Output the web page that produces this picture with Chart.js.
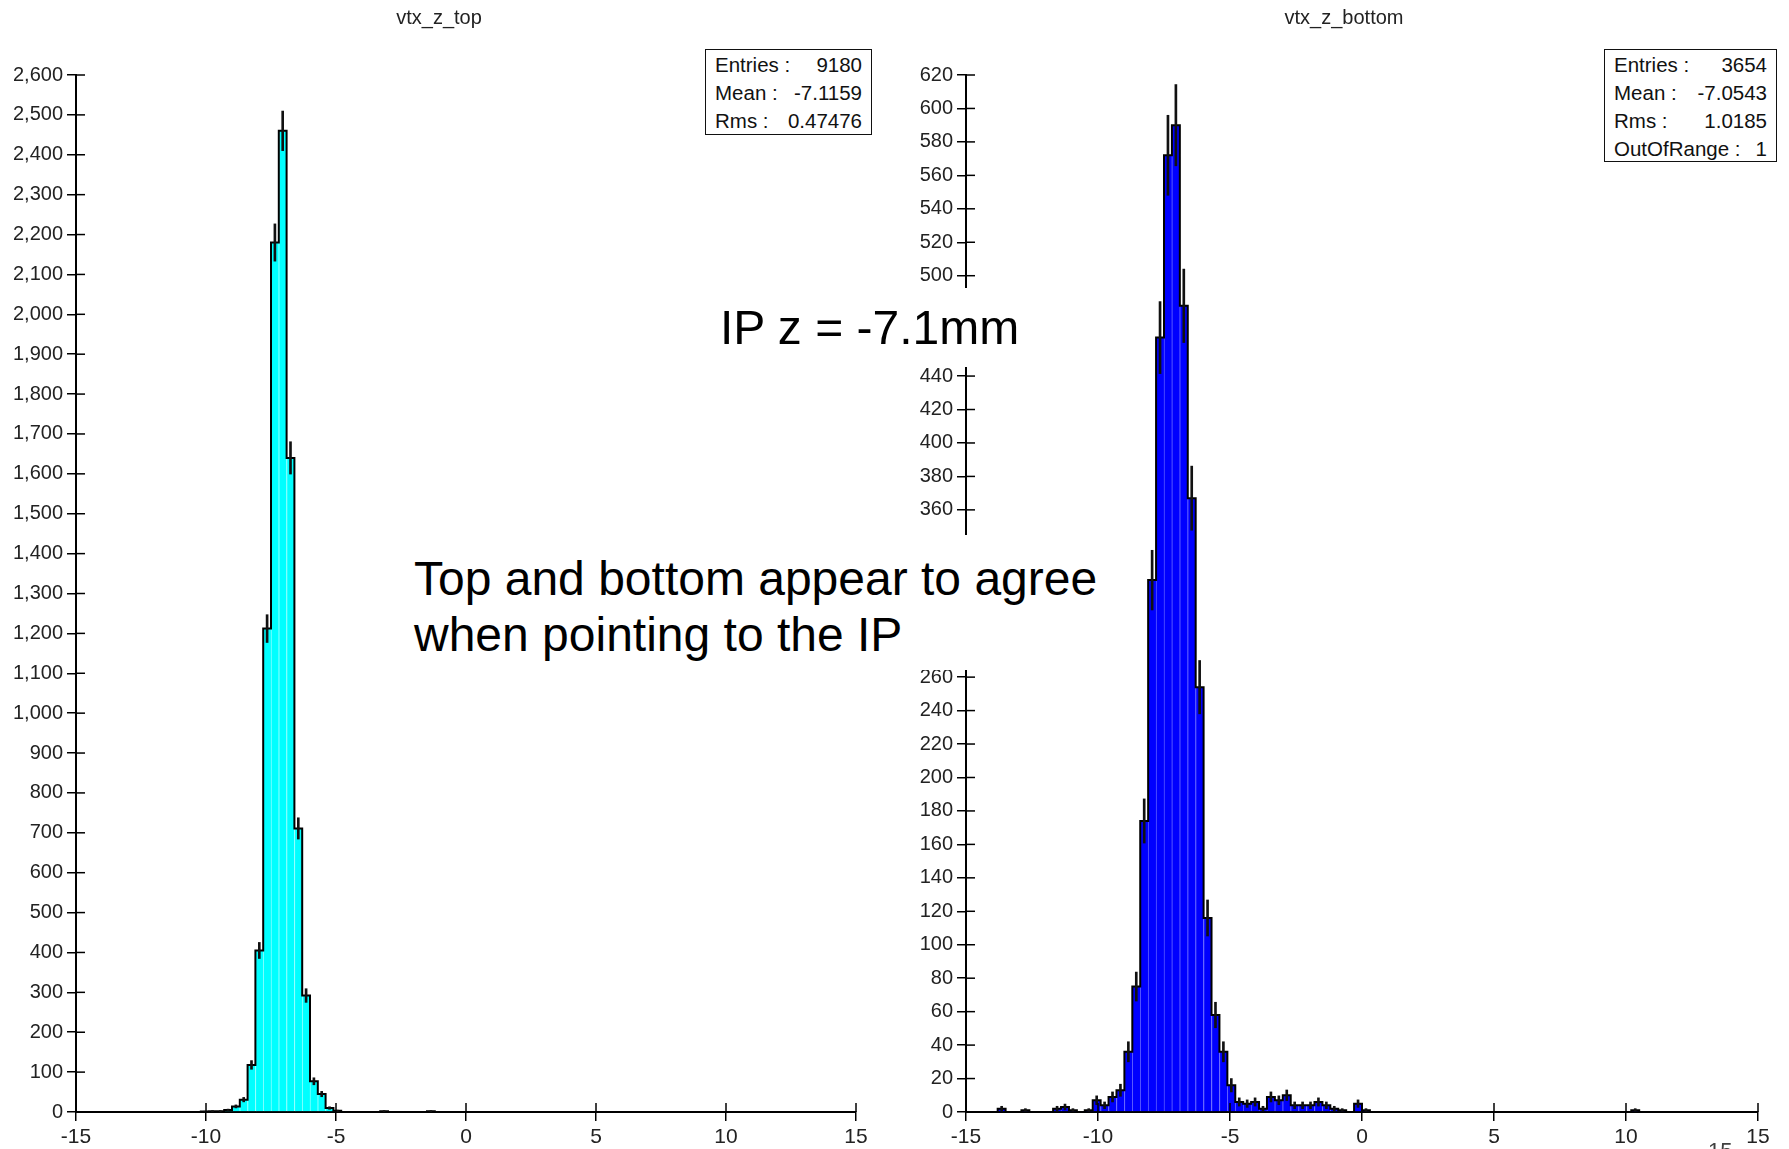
<!DOCTYPE html>
<html lang="en">
<head>
<meta charset="UTF-8">
<title>vtx_z_top / vtx_z_bottom</title>
<script src="https://cdn.jsdelivr.net/npm/chart.js@4"></script>
<style>
  html, body { margin: 0; padding: 0; background: #fff; }
  body { width: 1789px; height: 1149px; position: relative; overflow: hidden; font-family: 'Liberation Sans', Arial, sans-serif; }
  canvas { position: absolute; top: 0; }
  .title { position: absolute; top: 6px; font-size: 20px; color: #222; transform: translateX(-50%); white-space: nowrap; }
  .stats { position: absolute; border: 1.5px solid #111; background: #fff; font-size: 20.5px; color: #111; padding: 1px 9px 0; box-sizing: border-box; white-space: nowrap; }
  .stats div { display: flex; justify-content: space-between; height: 28px; line-height: 28px; }
  .mask { position: absolute; background: #fff; }
  .note { position: absolute; font-size: 48px; line-height: 56px; color: #000; white-space: nowrap; }
</style>
</head>
<body>
<canvas id="topChart" width="900" height="1149" style="left:0"></canvas>
<canvas id="bottomChart" width="889" height="1149" style="left:900px"></canvas>

<div class="title" style="left:439px">vtx_z_top</div>
<div class="title" style="left:1344px">vtx_z_bottom</div>
<div class="stats" id="topStats" style="left:705px; top:49px; width:167px; height:86px"></div>
<div class="stats" id="bottomStats" style="left:1604px; top:49px; width:173px; height:113px"></div>

<div class="mask" style="left:705px; top:288px; width:310px; height:79px"></div>
<div class="note" style="left:720px; top:300px">IP z = -7.1mm</div>
<div class="mask" style="left:405px; top:535px; width:700px; height:135px"></div>
<div class="note" style="left:414px; top:551px">Top and bottom appear to agree<br>when pointing to the IP</div>
<div style="position:absolute; left:1708px; top:1138px; font-size:22px; color:#404040">15</div>

<script>
// histogram binning: 100 bins of 0.3 from -15 to 15
const binLow = -15;
const binWidth = 0.3;

// counts per bin
const topCounts = [
  0, 0, 0, 0, 0, 0, 0, 0, 0, 0,
  0, 0, 0, 0, 0, 0, 1, 2, 2, 5,
  14, 31, 118, 405, 1212, 2180, 2460, 1640, 711, 292,
  77, 45, 10, 3, 0, 0, 0, 0, 0, 2,
  0, 0, 0, 0, 0, 2, 0, 0, 0, 0,
  0, 0, 0, 0, 0, 0, 0, 0, 0, 0,
  0, 0, 0, 0, 0, 0, 0, 0, 0, 0,
  0, 0, 0, 0, 0, 0, 0, 0, 0, 0,
  0, 0, 0, 0, 0, 0, 0, 0, 0, 0,
  0, 0, 0, 0, 0, 0, 0, 0, 0, 0
];
const bottomCounts = [
  0, 0, 0, 0, 2, 0, 0, 1, 0, 0,
  0, 2, 3, 1, 0, 1, 7, 4, 9, 13,
  36, 75, 174, 318, 463, 572, 590, 482, 367, 254,
  116, 58, 36, 16, 6, 5, 6, 2, 9, 7,
  10, 4, 4, 4, 6, 4, 2, 1, 0, 5,
  1, 0, 0, 0, 0, 0, 0, 0, 0, 0,
  0, 0, 0, 0, 0, 0, 0, 0, 0, 0,
  0, 0, 0, 0, 0, 0, 0, 0, 0, 0,
  0, 0, 0, 0, 1, 0, 0, 0, 0, 0,
  0, 0, 0, 0, 0, 0, 0, 0, 0, 0
];

const topStats = [['Entries :', '9180'], ['Mean :', '-7.1159'], ['Rms :', '0.47476']];
const bottomStats = [['Entries :', '3654'], ['Mean :', '-7.0543'], ['Rms :', '1.0185'], ['OutOfRange :', '1']];

function fillStats(id, rows) {
  const box = document.getElementById(id);
  rows.forEach(r => {
    const line = document.createElement('div');
    line.innerHTML = '<span>' + r[0] + '</span><span>' + r[1] + '</span>';
    box.appendChild(line);
  });
}
fillStats('topStats', topStats);
fillStats('bottomStats', bottomStats);

// tick marks that also poke into the plot area
const crossTicks = {
  id: 'crossTicks',
  afterDatasetsDraw(chart) {
    const { ctx, chartArea, scales } = chart;
    ctx.save();
    ctx.strokeStyle = '#000';
    ctx.lineWidth = 1.5;
    scales.x.ticks.forEach(t => {
      const px = scales.x.getPixelForValue(t.value);
      ctx.beginPath();
      ctx.moveTo(px, chartArea.bottom);
      ctx.lineTo(px, chartArea.bottom - 9);
      ctx.stroke();
    });
    scales.y.ticks.forEach(t => {
      const py = scales.y.getPixelForValue(t.value);
      ctx.beginPath();
      ctx.moveTo(chartArea.left, py);
      ctx.lineTo(chartArea.left + 9, py);
      ctx.stroke();
    });
    ctx.restore();
  }
};

function histDatasets(counts, fill, sep) {
  const centers = counts.map((c, i) => binLow + binWidth * (i + 0.5));
  const steps = counts.map((c, i) => ({ x: binLow + binWidth * i, y: c }));
  steps.push({ x: binLow + binWidth * counts.length, y: 0 });
  const errs = [];
  counts.forEach((c, i) => {
    if (c > 0) errs.push({ x: centers[i], y: [c - Math.sqrt(c), c + Math.sqrt(c)] });
  });
  return [
    {
      type: 'bar',
      data: counts.map((c, i) => ({ x: centers[i], y: c })),
      backgroundColor: fill,
      borderColor: sep,
      borderWidth: { left: 1, right: 0, top: 0, bottom: 0 },
      barPercentage: 1,
      categoryPercentage: 1,
      grouped: false,
      order: 3
    },
    {
      type: 'line',
      data: steps,
      stepped: 'before',
      borderColor: '#000',
      borderWidth: 2,
      pointRadius: 0,
      fill: false,
      order: 2
    },
    {
      type: 'bar',
      data: errs,
      backgroundColor: '#111',
      barThickness: 2,
      grouped: false,
      order: 1
    }
  ];
}

const tickFont = { family: "'Liberation Sans', Arial, sans-serif", size: 20 };

function makeChart(id, counts, fill, sep, yMax, yStep, yWidth, padRight) {
  return new Chart(document.getElementById(id), {
    type: 'bar',
    data: { datasets: histDatasets(counts, fill, sep) },
    options: {
      responsive: false,
      devicePixelRatio: 1,
      animation: false,
      layout: { padding: { left: 0, right: padRight, top: 75, bottom: 0 } },
      plugins: { legend: { display: false }, tooltip: { enabled: false } },
      scales: {
        x: {
          type: 'linear',
          min: -15,
          max: 15,
          offset: false,
          grid: { offset: false, drawOnChartArea: false, tickLength: 9, color: '#000', lineWidth: 1.5 },
          border: { color: '#000', width: 2 },
          ticks: { stepSize: 5, autoSkip: false, maxRotation: 0, padding: 4, color: '#222', font: { ...tickFont, size: 21 } },
          afterFit: s => { s.height = 37; }
        },
        y: {
          type: 'linear',
          min: 0,
          max: yMax,
          grid: { drawOnChartArea: false, tickLength: 9, color: '#000', lineWidth: 1.5 },
          border: { color: '#000', width: 2 },
          ticks: {
            stepSize: yStep, autoSkip: false, maxTicksLimit: 100, padding: 4, color: '#222', font: tickFont,
            callback: v => v.toLocaleString('en-US')
          },
          afterFit: s => { s.width = yWidth; }
        }
      }
    },
    plugins: [crossTicks]
  });
}

makeChart('topChart', topCounts, '#00ffff', '#8cffff', 2600, 100, 76, 44);
makeChart('bottomChart', bottomCounts, '#0000ff', '#5a5aff', 620, 20, 66, 31);
</script>
</body>
</html>
